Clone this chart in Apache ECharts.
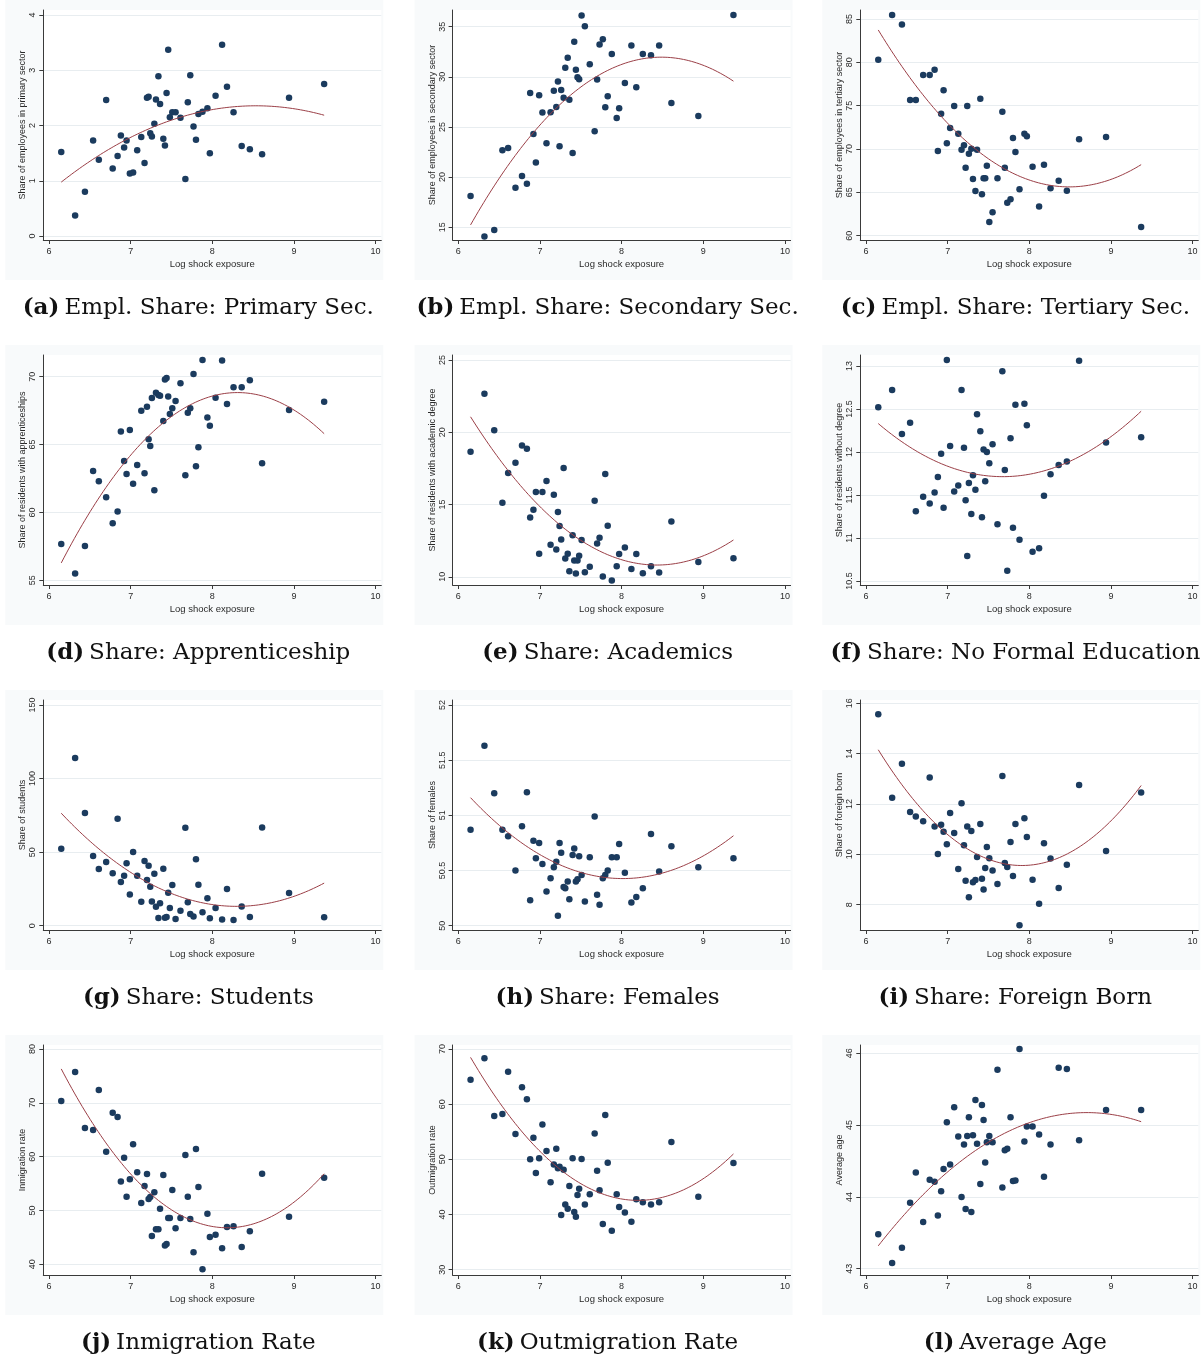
<!DOCTYPE html>
<html>
<head>
<meta charset="utf-8">
<script src="https://cdn.jsdelivr.net/npm/echarts@6/dist/echarts.min.js"></script>
<style>
  html, body { margin: 0; padding: 0; background: #ffffff; }
  #chart { width: 1203px; height: 1357px; }
</style>
</head>
<body>
<div id="chart"></div>
<script>
// Log shock exposure per region (shared x for every panel)
const exposure = [6.15,6.32,6.44,6.54,6.61,6.70,6.78,6.84,6.88,6.92,6.95,6.99,7.03,7.08,7.13,7.17,7.20,7.22,7.24,7.26,
                  7.29,7.31,7.34,7.36,7.40,7.42,7.44,7.46,7.48,7.51,7.55,7.61,7.67,7.70,7.73,7.77,7.80,7.83,7.88,7.94,
                  7.97,8.04,8.12,8.18,8.26,8.36,8.46,8.61,8.94,9.37];

// Outcome variables, one value per region in the same order as exposure
const primary    = [1.52,0.37,0.80,1.73,1.38,2.46,1.22,1.45,1.82,1.60,1.73,1.13,1.15,1.55,1.79,1.32,2.50,2.52,1.86,1.80,
                    2.03,2.47,2.89,2.39,1.76,1.64,2.59,3.37,2.15,2.24,2.24,2.14,1.03,2.42,2.91,1.98,1.74,2.21,2.25,2.31,
                    1.50,2.54,3.46,2.70,2.24,1.63,1.57,1.48,2.50,2.75];
const secondary  = [18.12,14.07,14.73,22.67,22.91,18.95,20.12,19.35,28.39,24.30,21.45,28.16,26.43,23.37,26.46,28.62,26.99,29.52,23.07,28.69,
                    27.92,30.91,31.91,27.72,22.41,33.50,30.70,29.95,29.75,36.10,35.03,31.25,24.57,29.72,33.21,33.74,26.96,28.06,32.28,25.90,
                    26.86,29.39,33.11,28.95,32.28,32.14,33.11,27.39,26.10,36.16];
const tertiary   = [80.31,85.46,84.38,75.65,75.65,78.54,78.54,79.15,69.77,74.08,76.77,70.65,72.42,74.96,71.77,69.92,70.42,67.85,74.96,69.46,
                    70.04,66.54,65.15,69.92,75.81,64.77,66.62,66.62,68.08,61.58,62.69,66.62,74.31,67.85,63.81,64.19,71.27,69.65,65.35,71.77,
                    71.46,67.96,63.38,68.19,65.46,66.35,65.19,71.12,71.38,61.00];
const apprentice = [57.68,55.49,57.53,63.05,62.29,61.11,59.20,60.06,65.97,63.79,62.83,66.07,62.12,63.49,67.50,62.88,67.79,65.39,64.89,68.43,
                    61.63,68.82,68.65,68.60,66.74,69.80,69.90,68.55,67.25,67.67,68.21,69.51,62.73,67.35,67.67,70.20,63.40,64.80,71.23,67.00,
                    66.39,68.45,71.20,67.99,69.22,69.22,69.73,63.62,67.55,68.16];
const academic   = [18.65,22.67,20.15,15.12,17.18,17.89,19.09,18.86,14.11,14.64,15.86,11.59,15.86,16.62,12.22,15.68,11.89,14.48,13.51,12.58,
                    17.52,11.27,11.59,10.39,12.88,11.13,10.23,11.13,11.45,12.54,10.32,10.69,15.26,12.31,12.70,10.02,17.11,13.53,9.75,10.72,
                    11.57,12.03,10.53,11.57,10.25,10.72,10.30,13.83,11.02,11.29];
const noDegree   = [12.52,12.72,12.21,12.34,11.31,11.48,11.40,11.53,11.71,11.98,11.35,13.07,12.07,11.54,11.61,12.72,12.05,11.44,10.79,11.64,
                    11.28,11.73,11.56,12.44,12.24,11.24,12.03,11.66,12.00,11.87,12.09,11.16,12.94,11.79,10.62,12.16,11.12,12.55,10.98,12.56,
                    12.31,10.84,10.88,11.49,11.74,11.85,11.89,13.06,12.11,12.17];
const students   = [52.3,114.0,76.6,47.4,38.5,43.3,35.6,72.7,29.7,34.0,42.4,21.3,50.1,34.0,16.3,44.0,31.0,40.8,26.5,16.5,
                    35.4,12.9,5.2,15.2,38.7,5.4,5.9,22.4,12.0,27.6,4.5,10.2,66.6,15.9,7.9,6.3,45.1,27.9,9.1,18.6,
                    5.0,12.0,4.3,24.9,3.9,13.1,5.9,66.8,22.2,5.7];
const females    = [50.87,51.63,51.20,50.87,50.81,50.50,50.90,51.21,50.23,50.77,50.61,50.75,50.56,50.31,50.43,50.53,50.58,50.09,50.75,50.66,
                    50.35,50.34,50.40,50.24,50.64,50.70,50.40,50.42,50.63,50.46,50.22,50.62,50.99,50.28,50.19,50.43,50.46,50.50,50.62,50.62,
                    50.74,50.48,50.21,50.26,50.34,50.83,50.49,50.72,50.53,50.61];
const foreign    = [15.56,12.25,13.60,11.68,11.50,11.31,13.05,11.11,10.01,11.18,10.90,10.40,11.64,10.85,9.42,12.03,10.36,8.95,11.11,8.30,
                    10.93,8.89,8.98,9.89,11.21,9.03,8.60,9.46,10.29,9.84,9.36,8.82,13.11,9.66,9.50,10.49,9.14,11.21,7.18,11.43,
                    10.69,8.99,8.04,10.44,9.83,8.66,9.59,12.75,10.13,12.46];
const inmigration  = [70.34,75.73,65.33,64.95,72.38,60.93,68.17,67.37,55.36,59.81,52.57,55.79,62.29,57.09,51.39,54.55,56.78,52.14,52.51,45.26,
                      53.37,46.50,46.50,50.34,56.59,43.47,43.78,48.61,48.61,53.81,46.69,48.61,60.31,52.57,48.42,42.23,61.42,54.37,39.07,49.41,
                      45.08,45.51,42.97,46.93,47.06,43.22,46.13,56.84,48.85,56.10];
const outmigration = [64.44,68.31,57.86,58.22,65.89,54.59,63.05,60.88,50.00,53.93,47.52,50.18,56.34,51.51,45.83,49.09,51.93,48.37,48.67,39.91,
                      48.13,41.84,41.06,45.17,50.18,40.45,39.61,43.53,44.68,50.06,41.84,43.66,54.71,47.95,44.38,38.28,58.04,49.40,37.07,43.66,
                      41.36,40.39,38.70,42.75,42.21,41.84,42.21,53.14,43.23,49.34];
const averageAge   = [43.48,43.08,43.29,43.92,44.34,43.65,44.24,44.21,43.74,44.08,44.39,45.04,44.45,45.25,44.84,44.00,44.73,43.83,44.85,45.11,
                      43.79,44.86,45.35,44.74,44.18,45.28,45.07,44.48,44.76,44.85,44.76,45.77,44.13,44.65,44.67,45.11,44.22,44.23,46.06,44.77,
                      44.98,44.98,44.87,44.28,44.73,45.80,45.78,44.79,45.21,45.21];

// Tick labels
const xTicks = [6, 7, 8, 9, 10];
const primaryTicks = [0, 1, 2, 3, 4];
const secondaryTicks = [15, 20, 25, 30, 35];
const tertiaryTicks = [60, 65, 70, 75, 80, 85];
const apprenticeTicks = [55, 60, 65, 70];
const academicTicks = [10, 15, 20, 25];
const noDegreeTicks = [10.5, 11, 11.5, 12, 12.5, 13];
const studentsTicks = [0, 50, 100, 150];
const femalesTicks = [50, 50.5, 51, 51.5, 52];
const foreignTicks = [8, 10, 12, 14, 16];
const inmigrationTicks = [40, 50, 60, 70, 80];
const outmigrationTicks = [30, 40, 50, 60, 70];
const averageAgeTicks = [43, 44, 45, 46];

// Panel captions and y-axis titles
const captionTags = ['(a)','(b)','(c)','(d)','(e)','(f)','(g)','(h)','(i)','(j)','(k)','(l)'];
const captions = ['Empl. Share: Primary Sec.','Empl. Share: Secondary Sec.','Empl. Share: Tertiary Sec.',
                  'Share: Apprenticeship','Share: Academics','Share: No Formal Education',
                  'Share: Students','Share: Females','Share: Foreign Born',
                  'Inmigration Rate','Outmigration Rate','Average Age'];
const yTitles = ['Share of employees in primary sector','Share of employees in secondary sector','Share of employees in tertiary sector',
                 'Share of residents with apprenticeships','Share of residents with academic degree','Share of residents without degree',
                 'Share of students','Share of females','Share of foreign born',
                 'Inmigration rate','Outmigration rate','Average age'];
const xTitle = 'Log shock exposure';

const panelValues = [primary, secondary, tertiary, apprentice, academic, noDegree,
                     students, females, foreign, inmigration, outmigration, averageAge];
const panelTicks = [primaryTicks, secondaryTicks, tertiaryTicks, apprenticeTicks, academicTicks, noDegreeTicks,
                    studentsTicks, femalesTicks, foreignTicks, inmigrationTicks, outmigrationTicks, averageAgeTicks];
// y-axis extent (plot region incl. margin)
const panelRange = [[-0.072, 4.09], [13.73, 36.66], [59.50, 86.04],
                    [54.65, 71.60], [9.43, 25.35], [10.453, 13.128],
                    [-2.9, 153.4], [49.961, 52.045], [6.995, 16.13],
                    [38.01, 80.74], [29.04, 70.73], [42.912, 46.116]];

// Layout
const colLeft = [43.3, 452.6, 860.3];
const rowTop = [10, 355, 700, 1045];
const gridW = 338, gridH = 230;
const xMin = 5.93, xMax = 10.07;

const DOT = '#1b3b5e';
const FIT = '#9b3f47';
const AXIS = '#3a3a3a';
const TXT = '#2a2a2a';
const SANS = 'Liberation Sans, Arial, sans-serif';
const SERIF = 'DejaVu Serif, serif';

// Quadratic least-squares fit y = a + b*u + c*u^2 with u = x - mean(x)
function quadFit(xs, ys) {
  const n = xs.length;
  const m = xs.reduce((s, v) => s + v, 0) / n;
  let S = [0, 0, 0, 0, 0], T = [0, 0, 0];
  for (let i = 0; i < n; i++) {
    const u = xs[i] - m;
    let p = 1;
    for (let k = 0; k < 5; k++) { S[k] += p; if (k < 3) T[k] += p * ys[i]; p *= u; }
  }
  const A = [[S[0], S[1], S[2], T[0]], [S[1], S[2], S[3], T[1]], [S[2], S[3], S[4], T[2]]];
  for (let i = 0; i < 3; i++) {
    for (let j = i + 1; j < 3; j++) {
      const f = A[j][i] / A[i][i];
      for (let k = i; k < 4; k++) A[j][k] -= f * A[i][k];
    }
  }
  const coef = [0, 0, 0];
  for (let i = 2; i >= 0; i--) {
    let s = A[i][3];
    for (let k = i + 1; k < 3; k++) s -= A[i][k] * coef[k];
    coef[i] = s / A[i][i];
  }
  return x => { const u = x - m; return coef[0] + coef[1] * u + coef[2] * u * u; };
}

function fitCurve(xs, ys) {
  const f = quadFit(xs, ys);
  const lo = Math.min(...xs), hi = Math.max(...xs);
  const pts = [];
  const steps = 100;
  for (let i = 0; i <= steps; i++) {
    const x = lo + (hi - lo) * i / steps;
    pts.push([x, f(x)]);
  }
  return pts;
}

const grids = [], xAxes = [], yAxes = [], series = [], titles = [], graphics = [];

panelValues.forEach((vals, i) => {
  const col = i % 3, row = Math.floor(i / 3);
  const left = colLeft[col], top = rowTop[row];

  graphics.push({
    type: 'rect', z: -10, silent: true,
    shape: { x: left - 38, y: top - 10, width: 378, height: 280 },
    style: { fill: '#f8fafb' }
  });

  grids.push({ left: left, top: top, width: gridW, height: gridH,
               show: true, backgroundColor: '#ffffff', borderWidth: 0 });

  xAxes.push({
    type: 'value', gridIndex: i, min: xMin, max: xMax,
    axisLine: { show: true, onZero: false, lineStyle: { color: AXIS, width: 1 } },
    axisTick: { show: true, length: 4, customValues: xTicks, lineStyle: { color: AXIS } },
    axisLabel: { customValues: xTicks, fontSize: 9, color: TXT, fontFamily: SANS, margin: 7 },
    splitLine: { show: false },
    name: xTitle, nameLocation: 'middle', nameGap: 19,
    nameTextStyle: { fontSize: 9.5, color: TXT, fontFamily: SANS }
  });

  const ticks = panelTicks[i];
  yAxes.push({
    type: 'value', gridIndex: i, min: panelRange[i][0], max: panelRange[i][1],
    axisLine: { show: true, onZero: false, lineStyle: { color: AXIS, width: 1 } },
    axisTick: { show: true, length: 4, customValues: ticks, lineStyle: { color: AXIS } },
    axisLabel: { customValues: ticks, rotate: 90, fontSize: 9, color: TXT, fontFamily: SANS, margin: 6 },
    splitLine: { show: true, lineStyle: { color: '#e8edf0', width: 1 } },
    name: yTitles[i], nameLocation: 'middle', nameGap: 16, nameRotate: 90,
    nameTextStyle: { fontSize: 9, color: TXT, fontFamily: SANS }
  });

  series.push({
    type: 'scatter', xAxisIndex: i, yAxisIndex: i, z: 3,
    symbol: 'circle', symbolSize: 6.5,
    itemStyle: { color: DOT, opacity: 1 },
    data: exposure.map((x, j) => [x, vals[j]]),
    silent: true
  });
  series.push({
    type: 'line', xAxisIndex: i, yAxisIndex: i, z: 4,
    showSymbol: false, smooth: false, silent: true,
    lineStyle: { color: FIT, width: 1 },
    data: fitCurve(exposure, vals)
  });

  titles.push({
    text: '{b|' + captionTags[i] + '} {n|' + captions[i] + '}',
    left: left + 150, top: top + 282, textAlign: 'center',
    textStyle: {
      rich: {
        b: { fontFamily: SERIF, fontWeight: 'bold', fontSize: 23, color: '#111' },
        n: { fontFamily: SERIF, fontWeight: 'normal', fontSize: 23, color: '#111' }
      }
    }
  });
});

const chart = echarts.init(document.getElementById('chart'), null, { renderer: 'canvas' });
chart.setOption({
  animation: false,
  backgroundColor: '#ffffff',
  title: titles,
  grid: grids,
  xAxis: xAxes,
  yAxis: yAxes,
  series: series,
  graphic: { elements: graphics }
});
</script>
</body>
</html>
